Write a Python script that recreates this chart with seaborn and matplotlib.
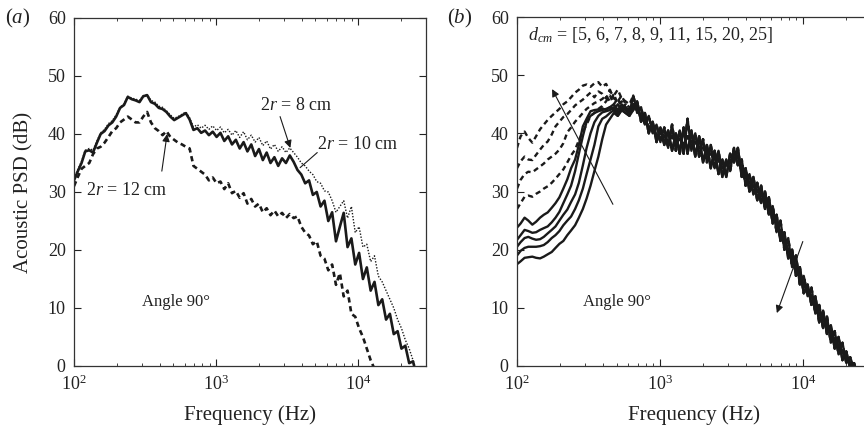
import numpy as np
import pandas as pd
import matplotlib
matplotlib.use("Agg")
import matplotlib.pyplot as plt
import seaborn as sns

# ---------------- data ----------------
freq = [100, 106, 113, 120, 128, 136, 145, 154, 164, 175, 186, 198, 211, 225, 239, 255,
        271, 289, 307, 327, 348, 371, 395, 420, 447, 476, 507, 540, 575, 612,
        651, 693, 738, 785, 836, 890, 947, 1008, 1073, 1142, 1216, 1294, 1377, 1466,
        1561, 1661, 1768, 1882, 2003, 2132, 2269, 2415, 2571, 2736, 2913, 3100, 3300,
        3512, 3738, 3979, 4235, 4508, 4798, 5107, 5436, 5786, 6159, 6555, 6977, 7427,
        7905, 8414, 8956, 9533, 10147, 10800, 11495, 12236, 13023, 13862, 14755, 15705,
        16716, 17793, 18939, 20159, 21457, 22839, 24310, 25875]

# panel (a): 2r = 8, 10, 12 cm
psd_8cm = [32.3, 33.8, 35.3, 37.2, 37.5, 37.2, 38.8, 40.2, 40.8, 41.8, 42.3, 43.3, 44.6, 45.2,
           46.5, 46.2, 46.0, 45.8, 46.6, 46.8, 45.8, 45.5, 44.8, 44.6, 44.0, 43.3, 42.7, 43.0,
           43.4, 43.8, 42.8, 41.2, 41.6, 41.0, 41.5, 40.8, 41.4, 40.6, 41.2, 40.2, 40.8, 39.8,
           40.6, 39.4, 40.4, 39.0, 39.8, 38.6, 39.4, 38.0, 38.8, 37.4, 38.2, 37.0, 37.8, 36.8,
           37.6, 36.8, 36.0, 35.0, 34.5, 33.6, 33.0, 31.8, 31.5, 30.2, 30.0, 28.5, 26.5, 27.5,
           28.5, 25.5, 27.5, 23.0, 24.0, 20.5, 21.0, 18.0, 19.0, 15.5, 14.5, 13.0, 11.5, 10.0,
           8.0, 6.5, 4.5, 3.0, 1.0, -1.0]
psd_10cm = [32.0, 33.5, 35.0, 37.0, 37.2, 36.8, 38.5, 40.0, 40.5, 41.5, 42.0, 43.0, 44.5, 45.0,
            46.4, 46.0, 45.8, 45.5, 46.5, 46.7, 45.5, 45.2, 44.5, 44.3, 43.8, 43.0, 42.4, 42.8,
            43.2, 43.6, 42.5, 40.7, 41.0, 40.2, 40.6, 39.8, 40.4, 39.5, 40.2, 38.8, 39.6, 38.2,
            39.0, 37.5, 38.6, 37.0, 38.2, 36.2, 37.4, 35.5, 36.8, 35.0, 36.0, 34.5, 35.8, 35.0,
            36.3, 35.2, 33.8, 33.0, 31.5, 32.0, 29.5, 30.0, 27.5, 28.5, 25.0, 26.5, 21.5, 24.0,
            26.4, 20.5, 22.0, 17.5, 19.5, 15.0, 17.0, 13.0, 14.5, 10.5, 11.5, 8.0, 9.0, 5.5,
            6.0, 3.0, 3.5, 0.5, 0.8, -2.0]
psd_12cm = [31.0, 32.5, 34.0, 34.5, 35.0, 36.5, 37.5, 37.8, 38.5, 39.5, 40.5, 41.0, 42.0, 42.5,
            43.0, 42.5, 42.0, 42.0, 43.0, 43.8, 42.0, 41.0, 40.5, 39.8, 40.5, 39.5, 39.0, 38.5,
            38.2, 37.8, 37.5, 34.5, 34.0, 33.5, 33.0, 32.0, 32.5, 31.5, 31.8, 30.5, 31.5, 29.8,
            30.2, 29.0, 29.8, 28.0, 28.8, 27.5, 28.0, 26.5, 27.2, 26.0, 26.8, 25.8, 26.4, 25.5,
            26.2, 25.5, 25.8, 24.0, 23.0, 22.5, 21.0, 21.5, 19.0, 18.5, 16.5, 17.5, 14.0, 16.0,
            12.0, 13.0, 9.0, 8.5, 6.5, 5.0, 3.0, 1.0, -0.5, -1.0, -2.0, -2.5, -3.0, -3.0,
            -3.0, -3.0, -3.0, -3.0, -3.0, -3.0]

# panel (b): low-frequency rise (first 30 frequencies) for each distance
d_cm = [25, 20, 15, 11, 9, 8, 7, 6, 5]
rise = {
    25: [37.5, 39.5, 40.3, 39.2, 38.4, 39.5, 40.7, 41.5, 42.3, 43.0, 43.6, 44.2, 45.0, 45.5, 46.2,
         47.0, 47.5, 48.2, 48.4, 48.0, 48.6, 48.8, 48.0, 48.5, 47.2, 46.5, 47.5, 46.0, 45.5, 45.0],
    20: [34.0, 35.2, 36.0, 35.5, 35.4, 36.3, 37.2, 38.0, 38.6, 39.8, 41.2, 42.0, 42.8, 43.3, 44.0,
         44.8, 45.3, 45.8, 46.4, 47.0, 46.2, 47.2, 46.8, 46.0, 47.5, 46.0, 45.5, 46.5, 45.0, 44.5],
    15: [30.5, 32.0, 33.0, 33.4, 33.3, 33.8, 34.3, 34.8, 35.5, 36.0, 36.5, 37.2, 38.3, 40.2, 41.0,
         42.0, 42.7, 43.5, 44.2, 44.7, 45.2, 45.5, 45.9, 46.5, 45.5, 46.8, 45.0, 45.5, 44.5, 44.0],
    11: [27.0, 28.0, 29.1, 29.3, 29.1, 29.6, 30.0, 30.5, 30.9, 31.5, 32.2, 33.0, 33.8, 35.0, 36.2,
         37.2, 38.8, 40.3, 41.5, 43.0, 43.5, 44.2, 44.7, 45.5, 46.5, 45.0, 46.0, 44.5, 45.0, 44.0],
    9: [23.8, 24.5, 25.5, 25.0, 24.3, 24.8, 25.5, 26.0, 26.4, 27.2, 28.0, 29.0, 30.5, 32.1, 34.0,
        35.5, 38.0, 41.2, 42.5, 43.8, 44.0, 44.1, 44.3, 44.0, 44.5, 45.0, 44.0, 45.0, 44.0, 43.5],
    8: [21.7, 22.5, 23.4, 23.2, 22.9, 23.0, 23.4, 23.7, 24.0, 24.7, 25.5, 26.5, 28.0, 29.5, 31.0,
        33.5, 36.5, 39.5, 42.0, 43.0, 43.5, 43.8, 44.0, 44.2, 44.5, 44.0, 45.0, 44.0, 44.5, 43.5],
    7: [20.5, 21.3, 22.0, 22.2, 21.9, 21.7, 21.8, 22.2, 22.8, 23.4, 24.0, 25.0, 26.0, 26.9, 28.2,
        29.5, 31.5, 34.5, 37.5, 40.0, 41.9, 43.0, 43.6, 43.8, 44.0, 44.5, 43.5, 44.5, 44.0, 43.5],
    6: [19.0, 19.8, 20.3, 20.5, 20.5, 20.5, 20.6, 20.8, 21.3, 22.0, 22.5, 23.2, 24.2, 25.0, 25.7,
        27.0, 28.5, 30.5, 33.0, 35.5, 38.0, 41.2, 42.5, 42.9, 43.5, 44.0, 43.0, 44.0, 43.5, 43.0],
    5: [17.5, 18.0, 18.6, 18.7, 18.8, 18.6, 18.5, 18.8, 19.2, 19.6, 20.3, 21.0, 21.5, 22.5, 23.3,
        24.2, 25.5, 27.0, 28.8, 31.0, 33.5, 36.0, 39.0, 41.5, 42.5, 43.5, 43.0, 44.0, 43.5, 43.0],
}
# panel (b): common high-frequency part (last 60 frequencies), three realisations
tail_a = [46.5, 43.5, 44.5, 41.5, 43.0, 40.0, 41.5, 38.5, 41.0, 37.5, 41.5, 37.0, 40.5, 36.5,
          42.5, 37.0, 40.0, 36.0, 39.0, 35.0, 38.0, 34.0, 37.0, 32.5, 35.5, 33.5, 37.5, 34.5,
          35.5, 31.0, 33.0, 29.5, 31.5, 28.0, 30.0, 26.0, 27.5, 23.0, 25.0, 20.0, 22.0, 17.0,
          19.0, 14.0, 15.5, 12.0, 13.5, 9.0, 10.5, 6.5, 8.5, 4.0, 6.0, 2.0, 4.0, 0.5, 1.5,
          -0.5, -1.0, -3.0]
tail_b = [44.0, 45.5, 42.0, 43.5, 40.0, 42.0, 38.5, 41.0, 38.0, 40.5, 37.0, 40.0, 36.5, 41.0,
          36.5, 40.5, 36.0, 39.5, 35.0, 38.0, 34.0, 37.0, 33.0, 35.5, 32.5, 36.5, 35.0, 37.5,
          32.5, 34.0, 30.0, 32.5, 28.5, 31.0, 27.0, 29.0, 24.5, 26.0, 21.5, 23.0, 18.5, 20.0,
          15.5, 17.0, 12.5, 14.0, 10.5, 12.0, 7.5, 9.5, 5.5, 7.0, 3.0, 5.0, 1.0, 2.5, -0.5,
          0.5, -2.0, -2.0]
tail_c = [45.0, 44.0, 43.0, 42.5, 41.0, 41.5, 39.5, 40.0, 39.5, 38.5, 39.5, 38.5, 39.0, 38.0,
          39.5, 38.5, 38.5, 37.5, 37.5, 36.5, 36.5, 35.5, 35.5, 34.0, 34.5, 35.0, 36.5, 36.0,
          34.0, 32.5, 31.5, 31.0, 30.0, 29.5, 28.5, 27.5, 26.0, 24.5, 23.0, 21.5, 20.0, 18.5,
          17.0, 15.5, 14.0, 13.0, 12.0, 10.5, 9.0, 8.0, 7.0, 5.5, 4.5, 3.5, 2.5, 1.5, 0.5,
          -0.5, -1.5, -2.5]
dashed_d = [25, 20, 15, 11]

yticks = [0, 10, 20, 30, 40, 50, 60]
xticks = [100, 1000, 10000]
xticklabels = [r"$10^2$", r"$10^3$", r"$10^4$"]

# ---------------- style ----------------
sns.set_theme(style="ticks")
plt.rcParams["font.family"] = ["Liberation Serif", "DejaVu Serif"]
plt.rcParams["mathtext.fontset"] = "custom"
plt.rcParams["mathtext.rm"] = "Liberation Serif"
plt.rcParams["mathtext.it"] = "Liberation Serif:italic"
plt.rcParams["mathtext.bf"] = "Liberation Serif:bold"
plt.rcParams["axes.edgecolor"] = "#333333"
plt.rcParams["axes.linewidth"] = 0.9

fig = plt.figure(figsize=(8.64, 4.38), dpi=100)
ax_a = fig.add_axes([74 / 864, 1 - 366 / 438, 352 / 864, 348 / 438])
ax_b = fig.add_axes([517 / 864, 1 - 366 / 438, 354 / 864, 349 / 438])

FS = 13
TXT = "#222222"


def style_axis(ax):
    ax.set_xscale("log")
    ax.set_xlim(100, 30000)
    ax.set_ylim(0, 60)
    ax.set_yticks(yticks)
    ax.set_xticks(xticks)
    ax.set_xticklabels(xticklabels)
    ax.tick_params(which="both", direction="in", top=True, right=True, colors=TXT,
                   labelsize=FS, labelcolor=TXT)
    ax.tick_params(which="major", length=5, width=0.8, pad=6)
    ax.tick_params(which="minor", length=2.5, width=0.6)
    ax.set_xlabel("Frequency (Hz)", fontsize=15, color=TXT, labelpad=8)
    for s in ax.spines.values():
        s.set_visible(True)


def arrow(ax, tip, tail, head=True):
    ax.annotate("", xy=tip, xytext=tail,
                arrowprops=dict(arrowstyle="-|>" if head else "-", color="k",
                                lw=0.8, mutation_scale=11, shrinkA=0, shrinkB=0))


# ---------------- panel (a) ----------------
sns.lineplot(x=freq, y=psd_12cm, ax=ax_a, color="k", lw=1.9, sort=False, estimator=None,
             legend=False)
ax_a.lines[-1].set_dashes((2.0, 1.4))
sns.lineplot(x=freq, y=psd_8cm, ax=ax_a, color="k", lw=1.0, sort=False, estimator=None,
             legend=False)
ax_a.lines[-1].set_linestyle((0, (1, 1.2)))
sns.lineplot(x=freq, y=psd_10cm, ax=ax_a, color="k", lw=1.9, sort=False, estimator=None,
             legend=False)
style_axis(ax_a)
ax_a.set_ylabel("Acoustic PSD (dB)", fontsize=15, color=TXT, labelpad=10)

ax_a.text(2040, 45.0, r"2$r$ = 8 cm", fontsize=FS, va="center", ha="left", color=TXT)
arrow(ax_a, (3330, 37.6), (2820, 43.0))
ax_a.text(5150, 38.2, r"2$r$ = 10 cm", fontsize=FS, va="center", ha="left", color=TXT)
arrow(ax_a, (3900, 34.2), (5150, 36.8), head=False)
ax_a.text(122, 30.3, r"2$r$ = 12 cm", fontsize=FS, va="center", ha="left", color=TXT)
arrow(ax_a, (452, 40.0), (415, 33.6))
ax_a.text(300, 11.0, "Angle 90°", fontsize=12, va="center", ha="left", color=TXT)

# ---------------- panel (b) ----------------
tails = [tail_a, tail_b, tail_c]
for k, d in enumerate(d_cm):
    y = rise[d] + tails[k % 3]
    sns.lineplot(x=freq, y=y, ax=ax_b, color="k", lw=1.7, sort=False, estimator=None,
                 legend=False)
    if d in dashed_d:
        ax_b.lines[-1].set_dashes((2.2, 1.6))
style_axis(ax_b)
ax_b.text(119, 56.9, r"$d_{cm}$ = [5, 6, 7, 8, 9, 11, 15, 20, 25]", fontsize=FS,
          va="center", ha="left", color=TXT)
arrow(ax_b, (176, 47.6), (469, 27.8))
arrow(ax_b, (6580, 9.1), (10000, 21.4))
ax_b.text(289, 11.0, "Angle 90°", fontsize=12, va="center", ha="left", color=TXT)

fig.text(5 / 864, 1 - 18 / 438, r"($a$)", fontsize=15, va="center", ha="left", color=TXT)
fig.text(447 / 864, 1 - 18 / 438, r"($b$)", fontsize=15, va="center", ha="left", color=TXT)

fig.savefig("out.png", dpi=100)
